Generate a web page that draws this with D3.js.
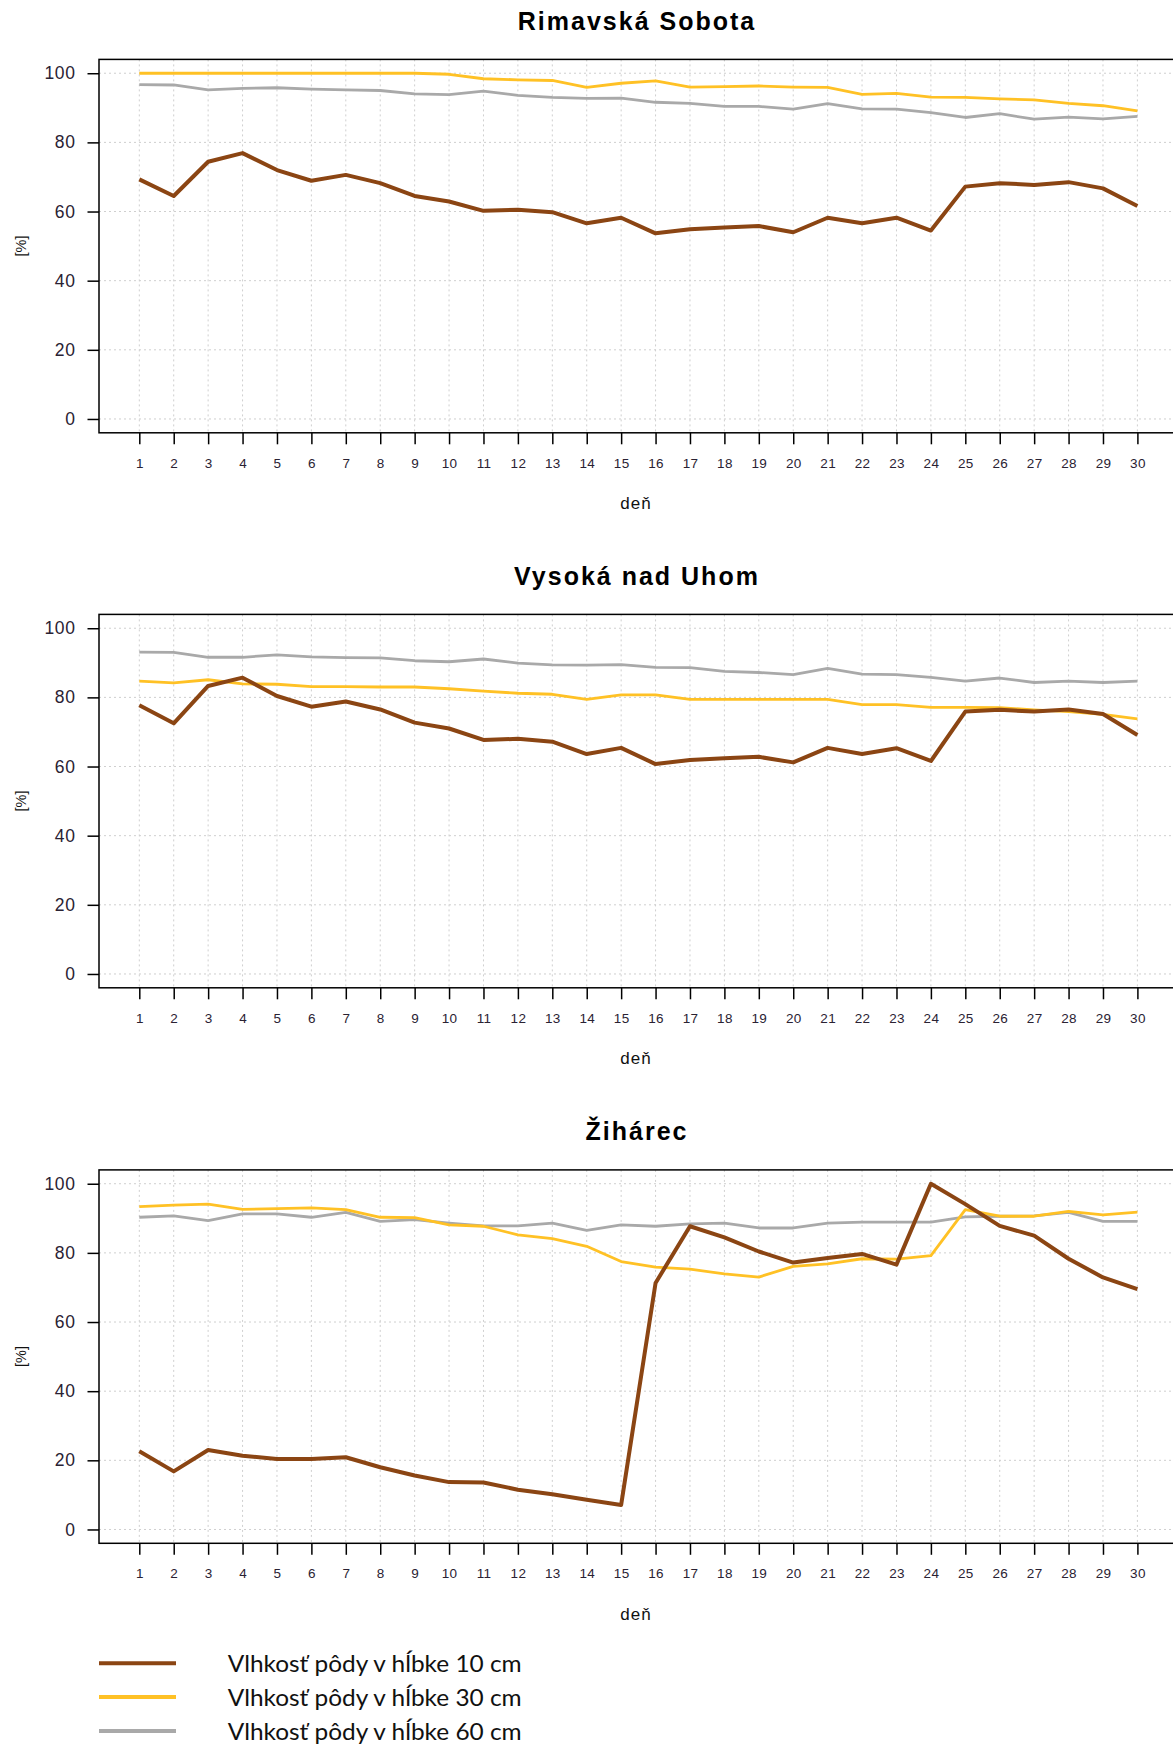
<!DOCTYPE html>
<html>
<head>
<meta charset="utf-8">
<script src="https://cdn.jsdelivr.net/npm/d3@7"></script>
<style>
  html, body { margin: 0; padding: 0; background: #fff; }
  svg { display: block; }
</style>
</head>
<body>
<svg id="chart" width="1173" height="1747"></svg>
<script>
// ---------------- DATA ----------------
const days = d3.range(1, 31);
const xTickLabels = days.map(String);
const yTicks = [0, 20, 40, 60, 80, 100];
const stationNames = ["Rimavská Sobota", "Vysoká nad Uhom", "Žihárec"];
const seriesNames = ["Vlhkosť pôdy v hĺbke 10 cm", "Vlhkosť pôdy v hĺbke 30 cm", "Vlhkosť pôdy v hĺbke 60 cm"];
const seriesColors = ["#8B4513", "#FFC125", "#A9A9A9"];

// Rimavská Sobota
const rimavska10 = [69.3,64.5,74.4,76.9,72.0,68.9,70.6,68.2,64.5,62.9,60.2,60.5,59.8,56.6,58.2,53.7,54.9,55.4,55.8,54.0,58.2,56.6,58.2,54.5,67.2,68.2,67.7,68.5,66.7,61.6];
const rimavska30 = [100,100,100,100,100,100,100,100,100,99.7,98.4,98.1,97.9,95.9,97.1,97.8,96.0,96.1,96.3,96.0,95.9,93.9,94.2,93.1,93.0,92.6,92.3,91.3,90.6,89.1];
const rimavska60 = [96.7,96.6,95.2,95.6,95.8,95.4,95.2,95.0,94.0,93.8,94.8,93.6,93.0,92.7,92.8,91.6,91.3,90.4,90.4,89.6,91.2,89.7,89.6,88.6,87.2,88.3,86.7,87.3,86.8,87.5];

// Vysoká nad Uhom
const vysoka10 = [77.7,72.5,83.3,85.7,80.4,77.3,78.8,76.5,72.7,71.0,67.7,68.0,67.2,63.6,65.4,60.7,61.9,62.4,62.8,61.2,65.4,63.6,65.3,61.6,75.9,76.4,75.9,76.5,75.2,69.1];
const vysoka30 = [84.7,84.2,85.1,83.9,83.8,83.1,83.1,83.0,83.0,82.5,81.8,81.2,80.9,79.4,80.7,80.7,79.4,79.4,79.4,79.4,79.4,77.9,77.9,77.1,77.1,77.0,76.4,75.9,75.1,73.8];
const vysoka60 = [93.1,93.0,91.6,91.6,92.3,91.7,91.5,91.4,90.6,90.3,91.1,89.9,89.4,89.3,89.5,88.7,88.6,87.5,87.2,86.6,88.4,86.7,86.6,85.8,84.7,85.6,84.3,84.7,84.3,84.7];

// Žihárec
const ziharec10 = [22.6,16.8,23.0,21.3,20.4,20.4,20.9,18.0,15.6,13.7,13.6,11.5,10.2,8.6,7.1,71.3,87.7,84.5,80.4,77.2,78.5,79.7,76.6,100.0,94.1,87.8,85.0,78.3,72.9,69.5];
const ziharec30 = [93.4,93.8,94.1,92.6,92.8,93.0,92.5,90.3,90.2,88.1,87.7,85.2,84.1,81.9,77.5,75.9,75.3,73.9,73.0,76.1,76.8,78.3,78.2,79.2,92.5,90.6,90.6,92.0,91.0,91.8];
const ziharec60 = [90.3,90.7,89.3,91.3,91.3,90.3,91.7,89.1,89.6,88.6,87.8,87.8,88.6,86.5,88.1,87.7,88.4,88.6,87.2,87.2,88.6,88.9,88.9,88.9,90.4,90.6,90.7,91.7,89.1,89.1];

const panels = [
  { title: stationNames[0], series: [rimavska60, rimavska30, rimavska10], colorIdx: [2, 1, 0] },
  { title: stationNames[1], series: [vysoka60, vysoka30, vysoka10], colorIdx: [2, 1, 0] },
  { title: stationNames[2], series: [ziharec60, ziharec30, ziharec10], colorIdx: [2, 1, 0] }
];
const panelOffsets = [0, 555, 1110.5];

// ---------------- DRAW ----------------
const svg = d3.select("#chart");
const FONT = "'Liberation Sans', Arial, sans-serif";

const x = d3.scaleLinear().domain([1, 30]).range([139.3, 1137.4]);
const xDomainFull = [x.invert(99), x.invert(1177)];
const lineWidths = [2.8, 2.8, 4];

panels.forEach((p, pi) => {
  const g = svg.append("g").attr("transform", `translate(0,${panelOffsets[pi]})`);
  const y = d3.scaleLinear().domain([-4, 104]).range([432.8, 59.4]);
  const left = x(xDomainFull[0]), right = x(xDomainFull[1]);
  const top = y(104), bottom = y(-4);

  // grid
  g.append("g").selectAll("line.vg").data(days).join("line")
    .attr("x1", d => x(d)).attr("x2", d => x(d))
    .attr("y1", top).attr("y2", bottom)
    .attr("stroke", "#cfcfcf").attr("stroke-width", 1).attr("stroke-dasharray", "2,3");
  g.append("g").selectAll("line.hg").data(yTicks).join("line")
    .attr("x1", left).attr("x2", right)
    .attr("y1", d => y(d)).attr("y2", d => y(d))
    .attr("stroke", "#cfcfcf").attr("stroke-width", 1).attr("stroke-dasharray", "2,3");

  // series
  const line = d3.line().x((d, i) => x(days[i])).y(d => y(d));
  p.series.forEach((s, si) => {
    g.append("path").datum(s)
      .attr("d", line)
      .attr("fill", "none")
      .attr("stroke", seriesColors[p.colorIdx[si]])
      .attr("stroke-width", lineWidths[si])
      .attr("stroke-linejoin", "round")
      .attr("stroke-linecap", "butt");
  });

  // box
  g.append("rect")
    .attr("x", left).attr("y", top)
    .attr("width", right - left).attr("height", bottom - top)
    .attr("fill", "none").attr("stroke", "#000").attr("stroke-width", 1.5);

  // x axis
  const xAxis = d3.axisBottom(x).tickValues(days).tickFormat((d, i) => xTickLabels[i])
    .tickSize(11.5).tickPadding(14);
  const xa = g.append("g").attr("transform", `translate(0,${bottom})`).call(xAxis);
  xa.select(".domain").remove();
  xa.selectAll(".tick line").attr("stroke", "#000").attr("stroke-width", 1.5);
  xa.selectAll(".tick text").attr("font-family", FONT).attr("font-size", 13.5)
    .attr("fill", "#2a2233").attr("letter-spacing", 0.3);

  // y axis
  const yAxis = d3.axisLeft(y).tickValues(yTicks).tickSize(11.5).tickPadding(12);
  const ya = g.append("g").attr("transform", `translate(${left},0)`).call(yAxis);
  ya.select(".domain").remove();
  ya.selectAll(".tick line").attr("stroke", "#000").attr("stroke-width", 1.5);
  ya.selectAll(".tick text").attr("font-family", FONT).attr("font-size", 17.5)
    .attr("fill", "#2a2233").attr("letter-spacing", 0.6);

  // title
  g.append("text").attr("x", 637).attr("y", 29.5)
    .attr("text-anchor", "middle").attr("font-family", FONT)
    .attr("font-weight", "bold").attr("font-size", 25).attr("letter-spacing", 2)
    .attr("fill", "#000").text(p.title);

  // x label
  g.append("text").attr("x", 636).attr("y", 509)
    .attr("text-anchor", "middle").attr("font-family", FONT)
    .attr("font-size", 17).attr("letter-spacing", 1).attr("fill", "#111").text("deň");

  // y label
  g.append("text").attr("transform", `translate(26,246) rotate(-90)`)
    .attr("text-anchor", "middle").attr("font-family", FONT)
    .attr("font-size", 14.5).attr("fill", "#111").text("[%]");
});

// legend
const legendY = [1663.3, 1697, 1731];
const legendTextY = [1672.3, 1705.7, 1740];
const legend = svg.append("g");
seriesNames.forEach((name, i) => {
  legend.append("line")
    .attr("x1", 99).attr("x2", 176)
    .attr("y1", legendY[i]).attr("y2", legendY[i])
    .attr("stroke", seriesColors[i]).attr("stroke-width", 4);
  legend.append("text")
    .attr("x", 227.7).attr("y", legendTextY[i])
    .attr("font-family", "Lato, 'Open Sans', sans-serif")
    .attr("font-size", 24)
    .attr("textLength", 294).attr("lengthAdjust", "spacingAndGlyphs")
    .attr("fill", "#111").text(name);
});
</script>
</body>
</html>
